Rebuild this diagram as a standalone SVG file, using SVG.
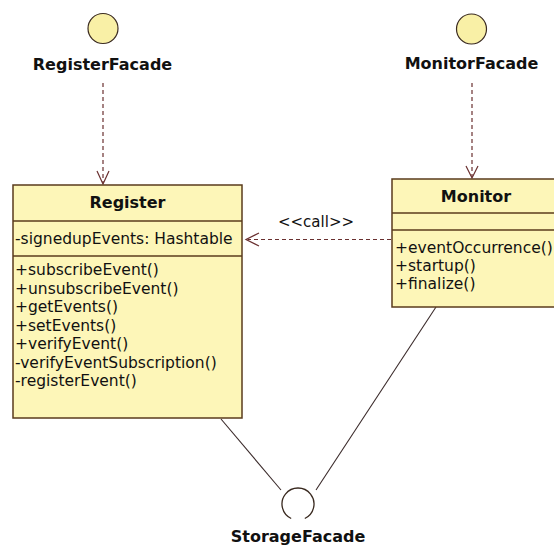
<svg xmlns="http://www.w3.org/2000/svg" width="554" height="549" viewBox="0 0 554 549">
<style>
.bg{fill:#ffffff}
.box{fill:#fdf6b8;stroke:#5a3b1c;stroke-width:1.5}
.div{stroke:#5a3b1c;stroke-width:1.5}
.iface{fill:#f9f0a6;stroke:#3a2a20;stroke-width:1.2}
.sock{fill:none;stroke:#3a2a20;stroke-width:1.3}
.title{font-family:"DejaVu Sans",Verdana,sans-serif;font-weight:bold;font-size:16px;fill:#111;text-anchor:middle}
.t{font-family:"DejaVu Sans",Verdana,sans-serif;font-size:15.5px;fill:#111}
.dash{fill:none;stroke:#6a3030;stroke-width:1.2;stroke-dasharray:4 3}
.head{fill:none;stroke:#6a3030;stroke-width:1.2}
.solid{fill:none;stroke:#3a2a2a;stroke-width:1.1}
</style>
<rect class="bg" x="0" y="0" width="554" height="549"/>
<g id="connectors">
<line class="dash" x1="103" y1="83" x2="103" y2="183"/>
<polyline class="head" points="97,171 103,184 109,171"/>
<line class="dash" x1="472" y1="83" x2="472" y2="177"/>
<polyline class="head" points="466,166 472,178 478,166"/>
<line class="dash" x1="391" y1="239.5" x2="248" y2="239.5"/>
<polyline class="head" points="259,233 246,239.5 259,246"/>
<text class="t" x="316" y="227" text-anchor="middle" style="font-size:15px">&lt;&lt;call&gt;&gt;</text>
<line class="solid" x1="221" y1="419" x2="281" y2="490"/>
<line class="solid" x1="436" y1="307" x2="316" y2="490"/>
</g>
<g id="RegisterFacade">
<circle class="iface" cx="103" cy="28.5" r="15"/>
<text class="title" x="102.5" y="70">RegisterFacade</text>
</g>
<g id="MonitorFacade">
<circle class="iface" cx="471.5" cy="29" r="15"/>
<text class="title" x="471.5" y="69">MonitorFacade</text>
</g>
<g id="StorageFacade">
<path class="sock" d="M291.2,518.5 A16,16 0 1 1 304.8,518.5"/>
<text class="title" x="298" y="542">StorageFacade</text>
</g>
<g id="Register">
<rect class="box" x="13" y="185" width="229" height="233"/>
<line class="div" x1="13" y1="221" x2="242" y2="221"/>
<line class="div" x1="13" y1="256" x2="242" y2="256"/>
<text class="title" x="127.5" y="208">Register</text>
<text class="t" x="15" y="244">-signedupEvents: Hashtable</text>
<text class="t" x="15" y="275">+subscribeEvent()</text>
<text class="t" x="15" y="293.5">+unsubscribeEvent()</text>
<text class="t" x="15" y="312">+getEvents()</text>
<text class="t" x="15" y="330.5">+setEvents()</text>
<text class="t" x="15" y="349">+verifyEvent()</text>
<text class="t" x="15" y="367.5">-verifyEventSubscription()</text>
<text class="t" x="15" y="386">-registerEvent()</text>
</g>
<g id="Monitor">
<rect class="box" x="392" y="179" width="170" height="128"/>
<line class="div" x1="392" y1="213" x2="562" y2="213"/>
<line class="div" x1="392" y1="230" x2="562" y2="230"/>
<text class="title" x="476" y="202">Monitor</text>
<text class="t" x="395" y="253">+eventOccurrence()</text>
<text class="t" x="395" y="271">+startup()</text>
<text class="t" x="395" y="289">+finalize()</text>
</g>
</svg>
